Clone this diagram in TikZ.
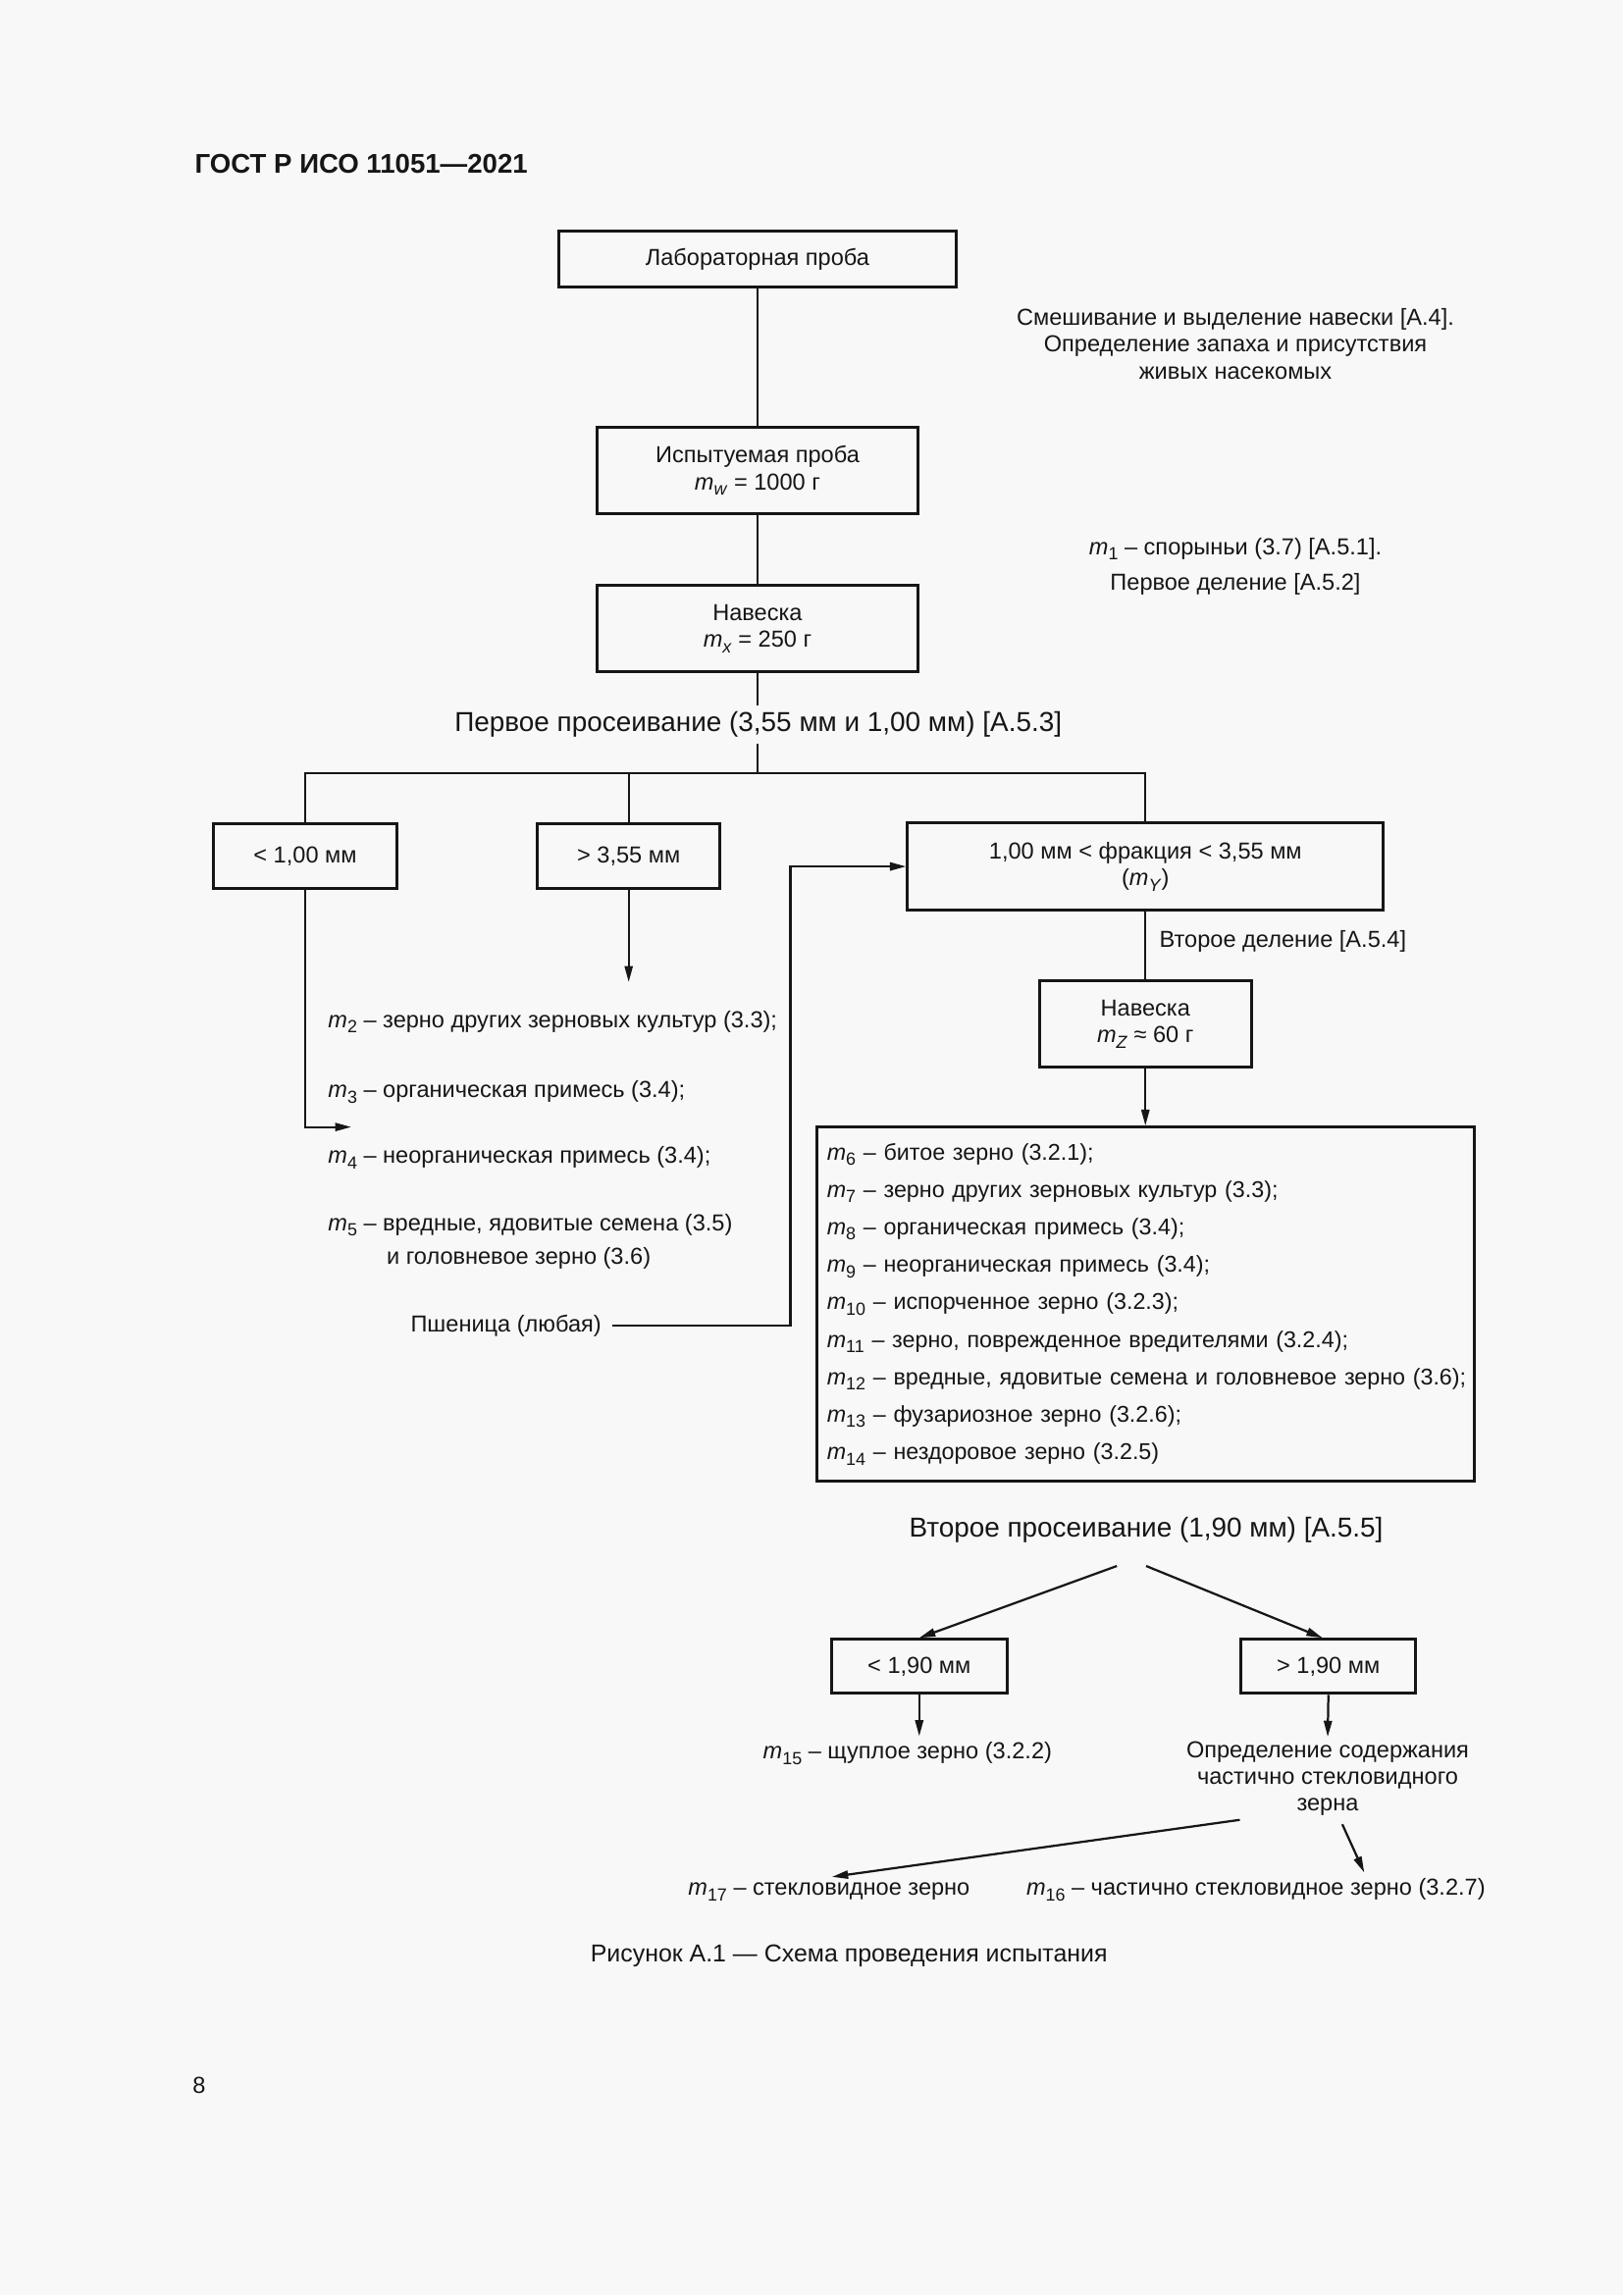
\documentclass[tikz,border=0pt]{standalone}
\usepackage{fontspec}
\setmainfont{Liberation Sans}
\usetikzlibrary{arrows.meta,calc}
\definecolor{bg}{RGB}{248,248,248}
\definecolor{ink}{RGB}{22,22,22}
\newcommand\mi[1]{\textit{m}\raisebox{-3.6pt}{\fontsize{12}{12}\selectfont #1}}
\begin{document}
\begin{tikzpicture}[x=1pt,y=-1pt,
  body/.style={font=\fontsize{15.8}{18.5}\selectfont, text=ink, inner sep=0pt},
  head/.style={font=\fontsize{18.7}{22}\selectfont, text=ink, inner xsep=0pt, inner ysep=4pt},
  box/.style={draw=ink, line width=2pt, inner sep=0pt, align=center, body},
  con/.style={draw=ink, line width=1.5pt},
  arr/.style={con, -{Triangle[length=11pt,width=5.5pt]}}]
\fill[bg] (0,0) rectangle (1109,1568);
\useasboundingbox (0,0) rectangle (1109,1568);

\node[anchor=west, text=ink, inner sep=0pt, font=\bfseries\fontsize{18.5}{21}\selectfont] (title) at (133,112) {ГОСТ Р ИСО 11051—2021};

\node[box, minimum width=271, minimum height=38] (lab) at (517.5,177) {Лабораторная проба};
\node[box, minimum width=219, minimum height=59] (test) at (517.5,321.5) {Испытуемая проба\\\mi{\textit{w}} = 1000 г};
\node[box, minimum width=219, minimum height=59] (nav1) at (517.5,429.5) {Навеска\\\mi{\textit{x}} = 250 г};
\draw[con] (lab) -- (test);
\draw[con] (test) -- (nav1);

\node[body, align=center] (mix) at (844,235) {Смешивание и выделение навески [А.4].\\Определение запаха и присутствия\\живых насекомых};
\node[body] (m1) at (844,375) {\mi{1} – спорыньи (3.7) [А.5.1].};
\node[body] (div1) at (844,399) {Первое деление [А.5.2]};

\node[head] (sieve1) at (518,495) {Первое просеивание (3,55 мм и 1,00 мм) [А.5.3]};
\coordinate (hb) at (517.5,528);
\draw[con] (nav1.south) -- (nav1.south |- sieve1.north);
\draw[con] (hb |- sieve1.south) -- (hb);

\node[box, minimum width=125, minimum height=44] (lt1) at (208.5,585) {< 1,00 мм};
\node[box, minimum width=125, minimum height=44] (gt355) at (429.5,585) {> 3,55 мм};
\node[box, minimum width=325, minimum height=60] (frac) at (782.5,592) {1,00 мм < фракция < 3,55 мм\\(\mi{\textit{Y}})};
\draw[con] (lt1.north) -- (lt1.north |- hb) -- (frac.north |- hb) -- (frac.north);
\draw[con] (gt355.north) -- (gt355.north |- hb);

\node[body, anchor=base west] (m2) at (224,702) {\mi{2} – зерно других зерновых культур (3.3);};
\node[body, anchor=base west] (m3) at (224,750) {\mi{3} – органическая примесь (3.4);};
\node[body, anchor=base west] (m4) at (224,795) {\mi{4} – неорганическая примесь (3.4);};
\node[body, anchor=base west] (m5) at (224,841) {\mi{5} – вредные, ядовитые семена (3.5)};
\node[body, anchor=base west] (m5b) at (264,864) {и головневое зерно (3.6)};
\coordinate (a4) at (240,770);
\draw[arr] (lt1.south) |- (a4);
\coordinate (a2) at (429.5,671);
\draw[arr] (gt355.south) -- (a2);

\node[body, anchor=base east] (wheat) at (411,910) {Пшеница (любая)};
\coordinate (wt) at (540,592);
\draw[arr, shorten <=7pt] (wheat.east) -| (wt) -- (frac.west);

\node[body, anchor=west] (div2) at (792,643) {Второе деление [А.5.4]};
\node[box, minimum width=145, minimum height=59] (nav2) at (782.5,699.5) {Навеска\\\mi{\textit{Z}} ≈ 60 г};
\draw[con] (frac) -- (nav2);

\node[box, line width=1.8pt, align=left, text width=435, minimum height=242, inner xsep=7pt, font=\fontsize{15.6}{25.6}\selectfont] (big) at (782.5,891) {%
\mbox{\mi{6} – битое зерно (3.2.1);}\\
\mbox{\mi{7} – зерно других зерновых культур (3.3);}\\
\mbox{\mi{8} – органическая примесь (3.4);}\\
\mbox{\mi{9} – неорганическая примесь (3.4);}\\
\mbox{\mi{10} – испорченное зерно (3.2.3);}\\
\mbox{\mi{11} – зерно, поврежденное вредителями (3.2.4);}\\
\mbox{\mi{12} – вредные, ядовитые семена и головневое зерно (3.6);}\\
\mbox{\mi{13} – фузариозное зерно (3.2.6);}\\
\mbox{\mi{14} – нездоровое зерно (3.2.5)}};
\draw[arr] (nav2) -- (big);

\node[head] (sieve2) at (783,1045) {Второе просеивание (1,90 мм) [А.5.5]};
\node[box, minimum width=120, minimum height=37] (lt19) at (628,1138.5) {< 1,90 мм};
\node[box, minimum width=119, minimum height=37] (gt19) at (907.5,1138.5) {> 1,90 мм};
\coordinate (s2l) at ($(sieve2.south)+(-20,12)$);
\coordinate (s2r) at ($(sieve2.south)+(0,12)$);
\draw[arr] (s2l) -- (lt19.north);
\draw[arr] (s2r) -- ($(gt19.north)+(-4,0)$);

\node[body] (m15) at (620,1198) {\mi{15} – щуплое зерно (3.2.2)};
\draw[arr, shorten >=4pt] (lt19.south) -- (lt19.south |- m15.north);
\node[body, align=center, font=\fontsize{15.8}{18}\selectfont] (det) at (907,1215) {Определение содержания\\частично стекловидного\\зерна};
\draw[arr, shorten >=3pt] (gt19.south) -- (det.north);

\node[body, anchor=base west] (m17) at (470,1295) {\mi{17} – стекловидное зерно};
\node[body, anchor=base west] (m16) at (701,1295) {\mi{16} – частично стекловидное зерно (3.2.7)};
\draw[arr] ($(det.south)+(-60,3)$) -- ($(m17.north)+(2,-4)$);
\draw[arr] ($(det.south)+(10,6)$) -- ($(m16.north west)+(231,-4)$);

\node[body, font=\fontsize{16.7}{19}\selectfont] (cap) at (580,1336) {Рисунок А.1 — Схема проведения испытания};
\node[body] (pg) at (136,1425) {8};
\end{tikzpicture}
\end{document}
